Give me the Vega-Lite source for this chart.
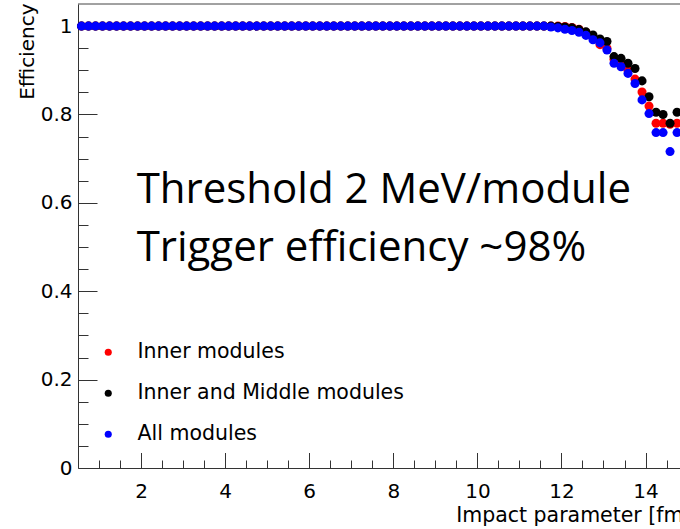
{
  "$schema": "https://vega.github.io/schema/vega-lite/v6.json",
  "width": 602,
  "height": 464,
  "autosize": {"type": "none"},
  "padding": {"left": 78, "top": 4, "right": 0, "bottom": 61},
  "background": "white",
  "config": {
    "view": {"stroke": null},
    "axis": {
      "labelFont": "DejaVu Sans",
      "titleFont": "DejaVu Sans",
      "labelColor": "#000",
      "titleColor": "#000",
      "domainColor": "#333",
      "tickColor": "#333",
      "grid": false,
      "zindex": 1,
      "labelFlush": false,
      "labelOverlap": false
    }
  },
  "layer": [
    {
      "data": {"values": [{}]},
      "mark": {"type": "rule", "color": "#444", "strokeWidth": 1},
      "encoding": {
        "x": {
          "datum": 0.5,
          "type": "quantitative",
          "scale": {"domain": [0.5, 14.82], "nice": false, "zero": false},
          "axis": {
            "orient": "bottom",
            "values": [1, 1.5, 2, 2.5, 3, 3.5, 4, 4.5, 5, 5.5, 6, 6.5, 7, 7.5, 8, 8.5, 9, 9.5, 10, 10.5, 11, 11.5, 12, 12.5, 13, 13.5, 14, 14.5],
            "labels": false,
            "domain": false,
            "tickSize": -8,
            "title": null
          }
        },
        "x2": {"datum": 14.82},
        "y": {
          "datum": 1.05,
          "type": "quantitative",
          "scale": {"domain": [0, 1.05], "nice": false, "zero": false},
          "axis": {
            "orient": "left",
            "values": [0.05, 0.1, 0.15, 0.2, 0.25, 0.3, 0.35, 0.4, 0.45, 0.5, 0.55, 0.6, 0.65, 0.7, 0.75, 0.8, 0.85, 0.9, 0.95, 1.0],
            "labels": false,
            "domain": false,
            "tickSize": -10,
            "title": null
          }
        }
      }
    },
    {
      "data": {
        "values": [
          {"impact": 0.583, "Inner modules": 1, "Inner and Middle modules": 1, "All modules": 1},
          {"impact": 0.75, "Inner modules": 1, "Inner and Middle modules": 1, "All modules": 1},
          {"impact": 0.917, "Inner modules": 1, "Inner and Middle modules": 1, "All modules": 1},
          {"impact": 1.083, "Inner modules": 1, "Inner and Middle modules": 1, "All modules": 1},
          {"impact": 1.25, "Inner modules": 1, "Inner and Middle modules": 1, "All modules": 1},
          {"impact": 1.417, "Inner modules": 1, "Inner and Middle modules": 1, "All modules": 1},
          {"impact": 1.583, "Inner modules": 1, "Inner and Middle modules": 1, "All modules": 1},
          {"impact": 1.75, "Inner modules": 1, "Inner and Middle modules": 1, "All modules": 1},
          {"impact": 1.917, "Inner modules": 1, "Inner and Middle modules": 1, "All modules": 1},
          {"impact": 2.083, "Inner modules": 1, "Inner and Middle modules": 1, "All modules": 1},
          {"impact": 2.25, "Inner modules": 1, "Inner and Middle modules": 1, "All modules": 1},
          {"impact": 2.417, "Inner modules": 1, "Inner and Middle modules": 1, "All modules": 1},
          {"impact": 2.583, "Inner modules": 1, "Inner and Middle modules": 1, "All modules": 1},
          {"impact": 2.75, "Inner modules": 1, "Inner and Middle modules": 1, "All modules": 1},
          {"impact": 2.917, "Inner modules": 1, "Inner and Middle modules": 1, "All modules": 1},
          {"impact": 3.083, "Inner modules": 1, "Inner and Middle modules": 1, "All modules": 1},
          {"impact": 3.25, "Inner modules": 1, "Inner and Middle modules": 1, "All modules": 1},
          {"impact": 3.417, "Inner modules": 1, "Inner and Middle modules": 1, "All modules": 1},
          {"impact": 3.583, "Inner modules": 1, "Inner and Middle modules": 1, "All modules": 1},
          {"impact": 3.75, "Inner modules": 1, "Inner and Middle modules": 1, "All modules": 1},
          {"impact": 3.917, "Inner modules": 1, "Inner and Middle modules": 1, "All modules": 1},
          {"impact": 4.083, "Inner modules": 1, "Inner and Middle modules": 1, "All modules": 1},
          {"impact": 4.25, "Inner modules": 1, "Inner and Middle modules": 1, "All modules": 1},
          {"impact": 4.417, "Inner modules": 1, "Inner and Middle modules": 1, "All modules": 1},
          {"impact": 4.583, "Inner modules": 1, "Inner and Middle modules": 1, "All modules": 1},
          {"impact": 4.75, "Inner modules": 1, "Inner and Middle modules": 1, "All modules": 1},
          {"impact": 4.917, "Inner modules": 1, "Inner and Middle modules": 1, "All modules": 1},
          {"impact": 5.083, "Inner modules": 1, "Inner and Middle modules": 1, "All modules": 1},
          {"impact": 5.25, "Inner modules": 1, "Inner and Middle modules": 1, "All modules": 1},
          {"impact": 5.417, "Inner modules": 1, "Inner and Middle modules": 1, "All modules": 1},
          {"impact": 5.583, "Inner modules": 1, "Inner and Middle modules": 1, "All modules": 1},
          {"impact": 5.75, "Inner modules": 1, "Inner and Middle modules": 1, "All modules": 1},
          {"impact": 5.917, "Inner modules": 1, "Inner and Middle modules": 1, "All modules": 1},
          {"impact": 6.083, "Inner modules": 1, "Inner and Middle modules": 1, "All modules": 1},
          {"impact": 6.25, "Inner modules": 1, "Inner and Middle modules": 1, "All modules": 1},
          {"impact": 6.417, "Inner modules": 1, "Inner and Middle modules": 1, "All modules": 1},
          {"impact": 6.583, "Inner modules": 1, "Inner and Middle modules": 1, "All modules": 1},
          {"impact": 6.75, "Inner modules": 1, "Inner and Middle modules": 1, "All modules": 1},
          {"impact": 6.917, "Inner modules": 1, "Inner and Middle modules": 1, "All modules": 1},
          {"impact": 7.083, "Inner modules": 1, "Inner and Middle modules": 1, "All modules": 1},
          {"impact": 7.25, "Inner modules": 1, "Inner and Middle modules": 1, "All modules": 1},
          {"impact": 7.417, "Inner modules": 1, "Inner and Middle modules": 1, "All modules": 1},
          {"impact": 7.583, "Inner modules": 1, "Inner and Middle modules": 1, "All modules": 1},
          {"impact": 7.75, "Inner modules": 1, "Inner and Middle modules": 1, "All modules": 1},
          {"impact": 7.917, "Inner modules": 1, "Inner and Middle modules": 1, "All modules": 1},
          {"impact": 8.083, "Inner modules": 1, "Inner and Middle modules": 1, "All modules": 1},
          {"impact": 8.25, "Inner modules": 1, "Inner and Middle modules": 1, "All modules": 1},
          {"impact": 8.417, "Inner modules": 1, "Inner and Middle modules": 1, "All modules": 1},
          {"impact": 8.583, "Inner modules": 1, "Inner and Middle modules": 1, "All modules": 1},
          {"impact": 8.75, "Inner modules": 1, "Inner and Middle modules": 1, "All modules": 1},
          {"impact": 8.917, "Inner modules": 1, "Inner and Middle modules": 1, "All modules": 1},
          {"impact": 9.083, "Inner modules": 1, "Inner and Middle modules": 1, "All modules": 1},
          {"impact": 9.25, "Inner modules": 1, "Inner and Middle modules": 1, "All modules": 1},
          {"impact": 9.417, "Inner modules": 1, "Inner and Middle modules": 1, "All modules": 1},
          {"impact": 9.583, "Inner modules": 1, "Inner and Middle modules": 1, "All modules": 1},
          {"impact": 9.75, "Inner modules": 1, "Inner and Middle modules": 1, "All modules": 1},
          {"impact": 9.917, "Inner modules": 1, "Inner and Middle modules": 1, "All modules": 1},
          {"impact": 10.083, "Inner modules": 1, "Inner and Middle modules": 1, "All modules": 1},
          {"impact": 10.25, "Inner modules": 1, "Inner and Middle modules": 1, "All modules": 1},
          {"impact": 10.417, "Inner modules": 1, "Inner and Middle modules": 1, "All modules": 1},
          {"impact": 10.583, "Inner modules": 1, "Inner and Middle modules": 1, "All modules": 1},
          {"impact": 10.75, "Inner modules": 1, "Inner and Middle modules": 1, "All modules": 1},
          {"impact": 10.917, "Inner modules": 1, "Inner and Middle modules": 1, "All modules": 1},
          {"impact": 11.083, "Inner modules": 1, "Inner and Middle modules": 1, "All modules": 1},
          {"impact": 11.25, "Inner modules": 1, "Inner and Middle modules": 1, "All modules": 1},
          {"impact": 11.417, "Inner modules": 1, "Inner and Middle modules": 1, "All modules": 1},
          {"impact": 11.583, "Inner modules": 1, "Inner and Middle modules": 1, "All modules": 1},
          {"impact": 11.75, "Inner modules": 1, "Inner and Middle modules": 1, "All modules": 0.998},
          {"impact": 11.917, "Inner modules": 1, "Inner and Middle modules": 0.999, "All modules": 0.996},
          {"impact": 12.083, "Inner modules": 0.999, "Inner and Middle modules": 0.998, "All modules": 0.993},
          {"impact": 12.25, "Inner modules": 0.997, "Inner and Middle modules": 0.996, "All modules": 0.99},
          {"impact": 12.417, "Inner modules": 0.993, "Inner and Middle modules": 0.992, "All modules": 0.986},
          {"impact": 12.583, "Inner modules": 0.986, "Inner and Middle modules": 0.987, "All modules": 0.979},
          {"impact": 12.75, "Inner modules": 0.976, "Inner and Middle modules": 0.98, "All modules": 0.969},
          {"impact": 12.917, "Inner modules": 0.958, "Inner and Middle modules": 0.971, "All modules": 0.962},
          {"impact": 13.083, "Inner modules": 0.95, "Inner and Middle modules": 0.965, "All modules": 0.946},
          {"impact": 13.25, "Inner modules": 0.925, "Inner and Middle modules": 0.931, "All modules": 0.916},
          {"impact": 13.417, "Inner modules": 0.915, "Inner and Middle modules": 0.927, "All modules": 0.908},
          {"impact": 13.583, "Inner modules": 0.9, "Inner and Middle modules": 0.916, "All modules": 0.893},
          {"impact": 13.75, "Inner modules": 0.88, "Inner and Middle modules": 0.904, "All modules": 0.87},
          {"impact": 13.917, "Inner modules": 0.851, "Inner and Middle modules": 0.876, "All modules": 0.833},
          {"impact": 14.083, "Inner modules": 0.819, "Inner and Middle modules": 0.84, "All modules": 0.802},
          {"impact": 14.25, "Inner modules": 0.78, "Inner and Middle modules": 0.805, "All modules": 0.759},
          {"impact": 14.417, "Inner modules": 0.78, "Inner and Middle modules": 0.8, "All modules": 0.759},
          {"impact": 14.583, "Inner modules": 0.778, "Inner and Middle modules": 0.78, "All modules": 0.716},
          {"impact": 14.75, "Inner modules": 0.78, "Inner and Middle modules": 0.805, "All modules": 0.759}
        ]
      },
      "transform": [
        {"fold": ["Inner modules", "Inner and Middle modules", "All modules"], "as": ["series", "efficiency"]}
      ],
      "mark": {"type": "circle", "size": 82, "opacity": 1},
      "encoding": {
        "x": {
          "field": "impact",
          "type": "quantitative",
          "scale": {"domain": [0.5, 14.82], "nice": false, "zero": false},
          "axis": {
            "orient": "bottom",
            "values": [2, 4, 6, 8, 10, 12, 14],
            "tickSize": -15.5,
            "labelPadding": 28.5,
            "labelFontSize": 20,
            "labelBaseline": "top",
            "title": "Impact parameter [fm]",
            "titleFontSize": 20.5,
            "titleFontWeight": "normal",
            "titleAlign": "right",
            "titleAnchor": null,
            "titleBaseline": "alphabetic",
            "titleX": 613,
            "titleY": 53
          }
        },
        "y": {
          "field": "efficiency",
          "type": "quantitative",
          "scale": {"domain": [0, 1.05], "nice": false, "zero": false},
          "axis": {
            "orient": "left",
            "values": [0, 0.2, 0.4, 0.6, 0.8, 1],
            "format": "~g",
            "tickSize": -19,
            "labelPadding": 25,
            "labelFontSize": 20,
            "title": "Efficiency",
            "titleFontSize": 20,
            "titleFontWeight": "normal",
            "titleAngle": -90,
            "titleAlign": "right",
            "titleAnchor": null,
            "titleBaseline": "middle",
            "titleX": -51,
            "titleY": -1
          }
        },
        "color": {
          "field": "series",
          "type": "nominal",
          "scale": {
            "domain": ["Inner modules", "Inner and Middle modules", "All modules"],
            "range": ["#ff0000", "#000000", "#0000ff"]
          },
          "legend": {
            "orient": "none",
            "legendX": 20,
            "legendY": 338,
            "title": null,
            "padding": 0,
            "symbolType": "circle",
            "symbolSize": 50,
            "symbolStrokeWidth": 0,
            "labelFont": "DejaVu Sans",
            "labelFontSize": 20.5,
            "labelColor": "#000",
            "labelOffset": 19,
            "labelLimit": 400,
            "rowPadding": 20
          }
        },
        "order": {"field": "series", "sort": "descending"}
      }
    },
    {
      "data": {"values": [{}]},
      "mark": {
        "type": "text",
        "text": ["Threshold 2 MeV/module", "Trigger efficiency ~98%"],
        "font": "Open Sans",
        "fontSize": 42,
        "align": "left",
        "baseline": "alphabetic",
        "lineHeight": 58,
        "color": "#000"
      },
      "encoding": {
        "x": {"datum": 1.895, "type": "quantitative", "axis": null},
        "y": {"datum": 0.6, "type": "quantitative", "axis": null}
      }
    }
  ],
  "resolve": {"axis": {"x": "independent", "y": "independent"}}
}
